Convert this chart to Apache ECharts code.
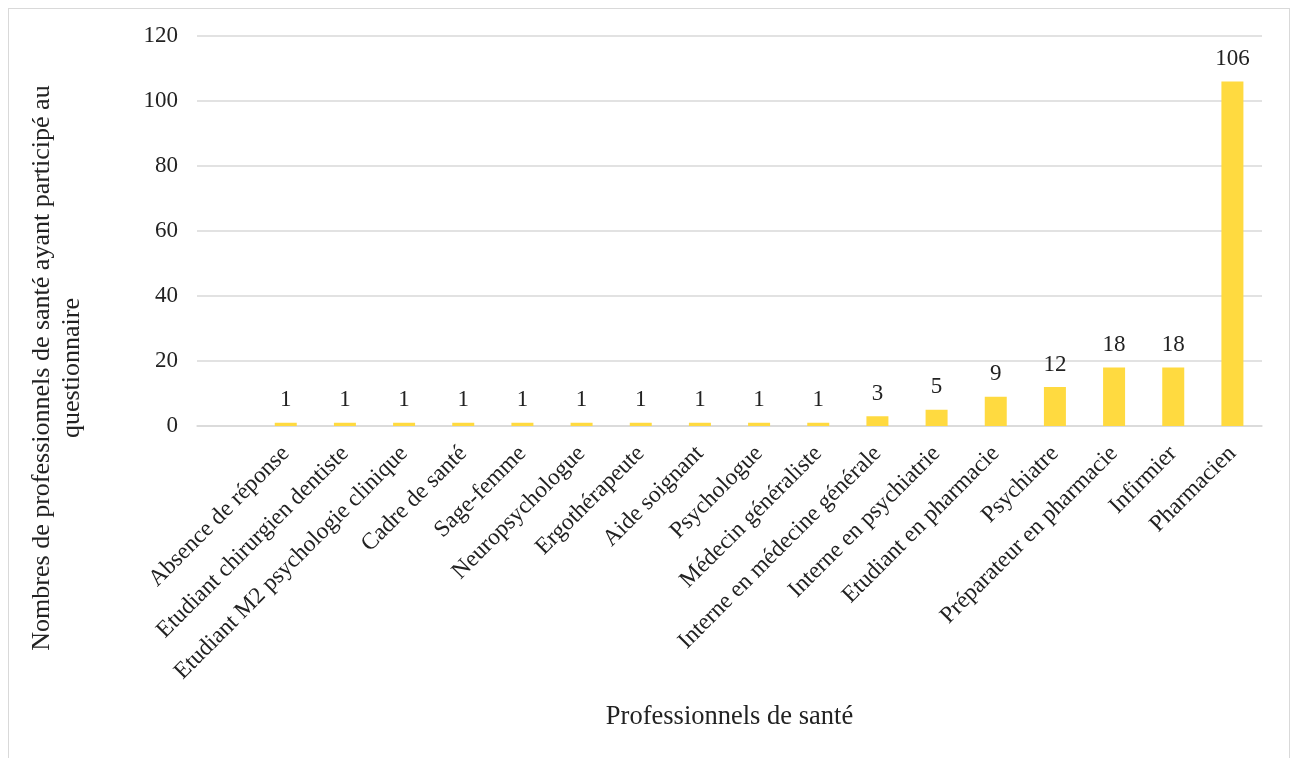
<!DOCTYPE html>
<html><head><meta charset="utf-8">
<script src="https://cdn.jsdelivr.net/npm/echarts@6/dist/echarts.min.js"></script>
<style>html,body{margin:0;padding:0;background:#fff;}
#frame{position:absolute;left:8px;top:8px;width:1282px;height:760px;border:1px solid #d9d9d9;box-sizing:border-box;}
#c{position:absolute;left:0;top:0;width:1292px;height:758px;}</style>
</head><body><div id="frame"></div><div id="c"></div>
<script>
var categories = ["", "Absence de réponse", "Etudiant chirurgien dentiste", "Etudiant M2 psychologie clinique", "Cadre de santé", "Sage-femme", "Neuropsychologue", "Ergothérapeute", "Aide soignant", "Psychologue", "Médecin généraliste", "Interne en médecine générale", "Interne en psychiatrie", "Etudiant en pharmacie", "Psychiatre", "Préparateur en pharmacie", "Infirmier", "Pharmacien"];
var values = [null, 1, 1, 1, 1, 1, 1, 1, 1, 1, 1, 3, 5, 9, 12, 18, 18, 106];
var yTicks = [0, 20, 40, 60, 80, 100, 120];
var yTitle = 'Nombres de professionnels de santé ayant participé au\nquestionnaire';
var xTitle = 'Professionnels de santé';
var font = "'Liberation Serif', 'Times New Roman', serif";
var chart = echarts.init(document.getElementById('c'), null, {renderer: 'canvas'});
chart.setOption({
  animation: false,
  grid: {left: 197, right: 30, top: 36, bottom: 332, containLabel: false},
  graphic: [{
    type: 'text', x: 57, y: 368, rotation: Math.PI / 2,
    style: {text: yTitle, font: '26px ' + font, fill: '#222', align: 'center', verticalAlign: 'middle', lineHeight: 30}
  }],
  xAxis: {
    type: 'category', data: categories,
    name: xTitle, nameLocation: 'middle', nameGap: 278,
    nameTextStyle: {fontFamily: font, fontSize: 26.5, color: '#222'},
    axisLine: {lineStyle: {color: '#d9d9d9', width: 1.5}},
    axisTick: {show: false},
    axisLabel: {rotate: 45, interval: 0, margin: 24, fontFamily: font, fontSize: 23.5, color: '#222'}
  },
  yAxis: {
    type: 'value', min: yTicks[0], max: yTicks[yTicks.length-1], interval: 20,
    axisLine: {show: false}, axisTick: {show: false},
    axisLabel: {margin: 19, fontFamily: font, fontSize: 23, color: '#222'},
    splitLine: {lineStyle: {color: '#d9d9d9', width: 1.5}}
  },
  series: [{
    type: 'bar', data: values, barWidth: 22,
    itemStyle: {color: '#FFDA40'},
    label: {show: true, position: 'top', distance: 11, fontFamily: font, fontSize: 23, color: '#222'}
  }]
});
</script></body></html>
